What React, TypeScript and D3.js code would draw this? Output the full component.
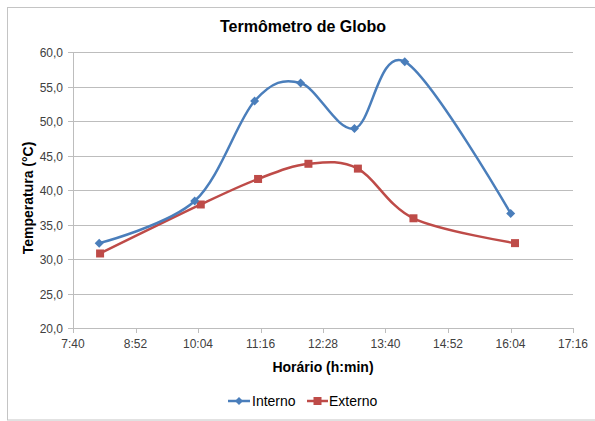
import React from "react";
import * as d3 from "d3";

// Measurement times (h:min) and globe temperatures (°C)
const internoTimes = ["8:11", "10:01", "11:10", "12:03", "13:05", "14:03", "16:05"];
const internoTemps = [32.3, 38.4, 52.9, 55.5, 48.9, 58.6, 36.6];
const externoTimes = ["8:12", "10:08", "11:14", "12:12", "13:09", "14:13", "16:10"];
const externoTemps = [30.8, 37.9, 41.6, 43.8, 43.1, 35.9, 32.3];

// Axis ticks (time axis is expressed as a fraction of a day)
const xTickValues = [0.32, 0.37, 0.42, 0.47, 0.52, 0.57, 0.62, 0.67, 0.72];
const xTickLabels = ["7:40", "8:52", "10:04", "11:16", "12:28", "13:40", "14:52", "16:04", "17:16"];
const yTickValues = [20, 25, 30, 35, 40, 45, 50, 55, 60];

const W = 595;
const H = 421;
const plot = { left: 73, right: 573, top: 52, bottom: 328 };

const BLUE = "#4A7EBB";
const RED = "#BE4B48";
const GRID = "#bdbdbd";
const FONT = "'Liberation Sans', Arial, sans-serif";

const toDay = (t: string) => {
  const [h, m] = t.split(":").map(Number);
  return (h * 60 + m) / 1440;
};

export default function App() {
  const x = d3.scaleLinear().domain([0.32, 0.72]).range([plot.left, plot.right]);
  const y = d3.scaleLinear().domain([20, 60]).range([plot.bottom, plot.top]);

  const line = d3
    .line<[number, number]>()
    .x((d) => x(d[0]))
    .y((d) => y(d[1]))
    .curve(d3.curveCatmullRom.alpha(0));

  const interno: [number, number][] = internoTimes.map((t, i) => [toDay(t), internoTemps[i]]);
  const externo: [number, number][] = externoTimes.map((t, i) => [toDay(t), externoTemps[i]]);

  const fmt = (v: number) => v.toFixed(1).replace(".", ",");

  const diamond = (cx: number, cy: number, r: number) =>
    `M${cx},${cy - r}L${cx + r},${cy}L${cx},${cy + r}L${cx - r},${cy}Z`;

  return (
    <svg
      width={W}
      height={H}
      style={{ position: "absolute", left: 0, top: 0, background: "#fff" }}
      fontFamily={FONT}
    >
      <rect x={7.5} y={7.5} width={600} height={412.5} fill="#fff" stroke="#c4c4c4" strokeWidth={1} />

      <text x={303} y={32} textAnchor="middle" fontSize={16} fontWeight="bold" fill="#000">
        Termômetro de Globo
      </text>

      {/* gridlines and y ticks */}
      {yTickValues.map((v) => (
        <g key={v}>
          <line
            x1={plot.left - 5}
            x2={plot.right}
            y1={Math.round(y(v)) + 0.5}
            y2={Math.round(y(v)) + 0.5}
            stroke={GRID}
            strokeWidth={1}
          />
          <text
            x={63}
            y={Math.round(y(v)) + 4.5}
            textAnchor="end"
            fontSize={12}
            fill="#404040"
          >
            {fmt(v)}
          </text>
        </g>
      ))}

      {/* y axis */}
      <line x1={plot.left + 0.5} x2={plot.left + 0.5} y1={plot.top} y2={plot.bottom} stroke={GRID} />

      {/* x ticks */}
      {xTickValues.map((v, i) => (
        <g key={v}>
          <line
            x1={Math.round(x(v)) + 0.5}
            x2={Math.round(x(v)) + 0.5}
            y1={plot.bottom}
            y2={plot.bottom + 5}
            stroke={GRID}
          />
          <text x={x(v)} y={348} textAnchor="middle" fontSize={12} fill="#404040">
            {xTickLabels[i]}
          </text>
        </g>
      ))}

      <text x={323} y={372} textAnchor="middle" fontSize={14} fontWeight="bold" fill="#000">
        Horário (h:min)
      </text>
      <text
        transform="translate(33,198) rotate(-90)"
        textAnchor="middle"
        fontSize={14}
        fontWeight="bold"
        fill="#000"
      >
        Temperatura (°C)
      </text>

      {/* series */}
      <path d={line(externo) ?? ""} fill="none" stroke={RED} strokeWidth={2.5} />
      {externo.map((d, i) => (
        <rect key={i} x={x(d[0]) - 4} y={y(d[1]) - 4} width={8} height={8} fill={RED} />
      ))}
      <path d={line(interno) ?? ""} fill="none" stroke={BLUE} strokeWidth={2.5} />
      {interno.map((d, i) => (
        <path key={i} d={diamond(x(d[0]), y(d[1]), 4.5)} fill={BLUE} />
      ))}

      {/* legend */}
      <g>
        <line x1={228} x2={250} y1={401} y2={401} stroke={BLUE} strokeWidth={2.5} />
        <path d={diamond(239, 401, 4)} fill={BLUE} />
        <text x={252} y={406} fontSize={14} fill="#000">
          Interno
        </text>
        <line x1={307} x2={328} y1={401} y2={401} stroke={RED} strokeWidth={2.5} />
        <rect x={313.5} y={397} width={8} height={8} fill={RED} />
        <text x={329} y={406} fontSize={14} fill="#000">
          Externo
        </text>
      </g>
    </svg>
  );
}
